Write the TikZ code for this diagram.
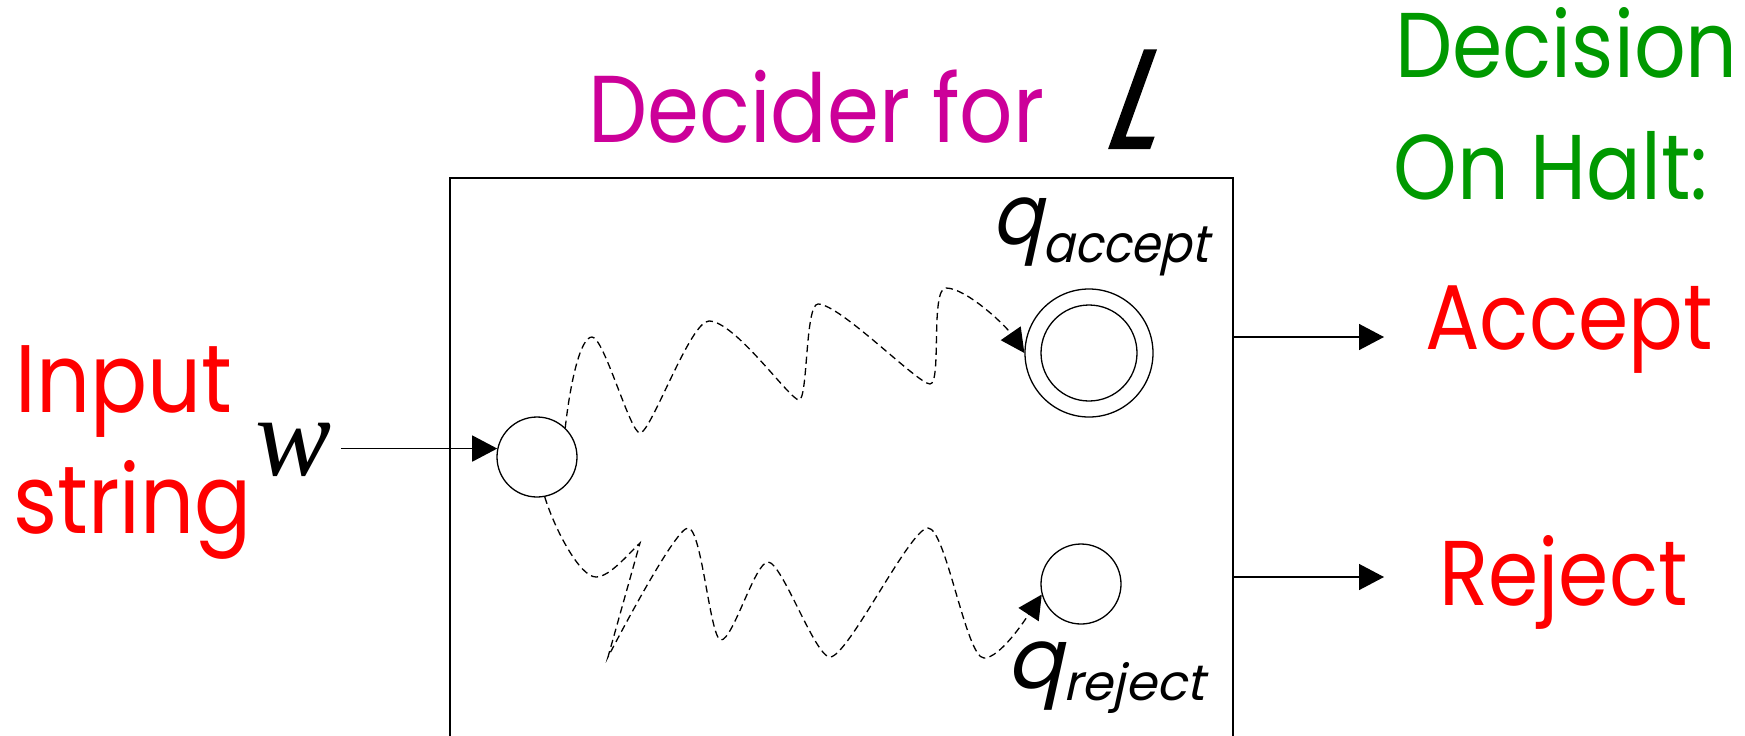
\documentclass[tikz,border=0pt]{standalone}
\usepackage{fontspec}
\setmainfont{Poppins}
\newfontfamily\narrowfont[FakeStretch=0.88]{Poppins}
\newfontfamily\slantfont[FakeSlant=0.22]{Poppins}
\newfontfamily\slantnarrow[FakeSlant=0.22,FakeStretch=0.9]{Poppins}
\newfontfamily\Lfont[FakeSlant=0.36,FakeBold=1.5,FakeStretch=0.85]{Poppins}
\newfontfamily\timesfont{Liberation Serif}
\usetikzlibrary{arrows.meta}
\definecolor{magT}{RGB}{204,0,153}
\definecolor{grnT}{RGB}{0,153,0}
\definecolor{redT}{RGB}{255,0,0}
\begin{document}
\begin{tikzpicture}[x=0.5pt,y=-0.5pt,
  state/.style={circle,draw,line width=0.65pt,inner sep=0pt},
  arr/.style={line width=0.7pt,-{Triangle[length=12.5pt,width=13pt]}},
  wave/.style={line width=0.65pt,dash pattern=on 3.6pt off 2.2pt,-{Triangle[length=12pt,width=12pt]}},
  lbl/.style={anchor=base west,inner sep=0pt},
  big/.style={font=\narrowfont\fontsize{46}{46}\selectfont},
  bigger/.style={font=\narrowfont\fontsize{48}{48}\selectfont}]
\useasboundingbox (0,0) rectangle (1745,735);
\clip (0,0) rectangle (1745,735);
% box
\node[draw,line width=0.95pt,minimum width=391.5pt,minimum height=320pt,anchor=north west,inner sep=0pt] (decider) at (449,177) {};
% states
\node[state,minimum size=40pt] (start) at (537,457) {};
\node[state,minimum size=64pt] (accept) at (1089,353) {};
\node[state,minimum size=48pt] (acceptin) at (1089,353) {};
\node[state,minimum size=40pt] (reject) at (1081,584) {};
% labels
\node[lbl,bigger,text=redT] (inputlbl) at (15,412) {Input};
\node[lbl,bigger,text=redT] (stringlbl) at (13,533) {string};
\node[anchor=base west,inner ysep=0pt,inner xsep=4.5pt] (w) at (246,475) {\timesfont\itshape\fontsize{57}{57}\selectfont w};
\node[lbl,text=magT,font=\narrowfont\fontsize{47.5}{47.5}\selectfont] (title) at (588,142) {Decider for};
\node[lbl,font=\Lfont\fontsize{70}{70}\selectfont] (L) at (1100,148) {L};
\node[lbl,big,text=grnT] (dec1) at (1395,77) {Decision};
\node[lbl,big,text=grnT] (dec2) at (1393,199) {On Halt:};
\node[lbl,big,text=redT] (acclbl) at (1425,349) {Accept};
\node[lbl,big,text=redT] (rejlbl) at (1439,605) {Reject};
\node[lbl] (qacc) at (991,244) {\slantnarrow\fontsize{42}{42}\selectfont q\raisebox{-9pt}{\fontsize{26}{26}\selectfont accept}};
\node[lbl] (qrej) at (1006,688) {\slantfont\fontsize{42}{42}\selectfont q\raisebox{-6pt}{\fontsize{25}{25}\selectfont reject}};
% connectors
\coordinate (acc) at (1384,337);
\coordinate (rej) at (1384,577);
\draw[arr] (w.east |- start.168.5) -- (start.168.5);
\draw[arr] (decider.east |- acc) -- (acc);
\draw[arr] (decider.east |- rej) -- (rej);
\draw[wave] (start.46) .. controls (570,385) and (580,337) .. (592,337)
  .. controls (604,337) and (630,433) .. (640,433)
  .. controls (651,433) and (690,321) .. (709,321)
  .. controls (735,321) and (790,400) .. (799,400)
  .. controls (808,400) and (805,304) .. (818,304)
  .. controls (840,304) and (918,384) .. (930,384)
  .. controls (942,384) and (930,288) .. (946,288)
  .. controls (966,288) and (1005,325) .. (accept.180);
\draw[wave] (start.-79) .. controls (555,530) and (580,577) .. (596,577)
  .. controls (610,577) and (630,552) .. (640,543)
  -- (608,657)
  .. controls (622,630) and (676,528) .. (688,528)
  .. controls (702,528) and (710,640) .. (721,640)
  .. controls (733,640) and (755,562) .. (768,562)
  .. controls (782,562) and (815,657) .. (830,657)
  .. controls (848,657) and (910,528) .. (928,528)
  .. controls (946,528) and (966,658) .. (984,658)
  .. controls (1000,658) and (1025,620) .. (reject.195);
\end{tikzpicture}
\end{document}
